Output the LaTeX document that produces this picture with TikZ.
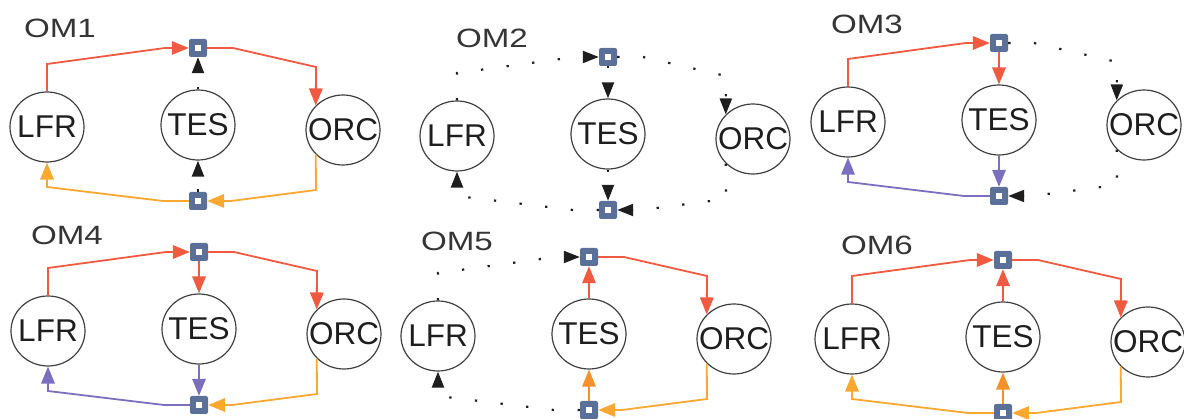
\documentclass[tikz,border=0pt]{standalone}
\usepackage{fontspec}
\setmainfont{Liberation Sans}
\usetikzlibrary{arrows.meta,shapes.geometric}

\definecolor{hubblue}{HTML}{5B7098}
\definecolor{flowred}{HTML}{F05A40}
\definecolor{floworange}{HTML}{F9A830}
\definecolor{flowamber}{HTML}{F5902A}
\definecolor{flowviolet}{HTML}{7B70C0}
\definecolor{ink}{HTML}{1E1E1E}

% nodes of one operating mode; the hub above sits at the local origin
\newcommand\omnodes[1]{%
  \node[hub] (t#1) at (0,0) {};
  \node[hub] (b#1) at (0,153) {};
  \node[unit,label={[unittext]center:LFR}] (l#1) at (-151,79) {};
  \node[unit,label={[unittext]center:TES}] (e#1) at (0,77) {};
  \node[unit,label={[unittext]center:ORC}] (o#1) at (145,82) {};}

% connector routes between the units and the two hubs
\newcommand\routeLT[2]{\draw[#2] (l#1.north) -- (-151,16) -- (-33,0) -- (t#1.west);}
\newcommand\routeTO[2]{\draw[#2] (t#1.east) -- (35,0) -- (118,19) -- (o#1.138);}
\newcommand\routeOB[2]{\draw[#2] (o#1.222) -- (118,142) -- (33,153) -- (b#1.east);}
\newcommand\routeBL[2]{\draw[#2] (b#1.west) -- (-35,153) -- (-151,139) -- (l#1.south);}
\newcommand\routeTE[2]{\draw[#2] (t#1.south) -- (e#1.north);}
\newcommand\routeET[2]{\draw[#2] (e#1.north) -- (t#1.south);}
\newcommand\routeEB[2]{\draw[#2] (e#1.south) -- (b#1.north);}
\newcommand\routeBE[2]{\draw[#2] (b#1.north) -- (e#1.south);}

\begin{document}
\begin{tikzpicture}[x=1pt,y=-1pt,
  hub/.style={rectangle,fill=hubblue,minimum size=18pt,inner sep=0pt,rounded corners=2pt,
    label={[fill=white,minimum size=5.5pt,inner sep=0pt]center:}},
  unit/.style={ellipse,draw=ink!85,line width=1.2pt,minimum width=74pt,minimum height=70pt,inner sep=0pt},
  unittext/.style={font=\fontsize{31.5}{31.5}\selectfont,text=ink,inner sep=0pt},
  tag/.style={font=\fontsize{26.5}{26.5}\selectfont,text=ink!90,inner sep=0pt},
  flow/.style={line width=1.8pt,-{Triangle[length=17pt,width=13.5pt]}},
  hot/.style={flow,draw=flowred},
  warm/.style={flow,draw=floworange},
  amber/.style={flow,draw=flowamber},
  cool/.style={flow,draw=flowviolet},
  idle/.style={flow,draw=ink,dash pattern=on 2.3pt off 23.5pt,line width=2.2pt,
    -{Triangle[length=16pt,width=12pt]}}]
\useasboundingbox (0,0) rectangle (1184,419);

% OM1
\node[tag] (n1) at (60,28) {\scalebox{1.25}[1]{OM1}};
\begin{scope}[shift={(198,48)}]
  \omnodes{1}
  \routeLT{1}{hot}
  \routeTO{1}{hot}
  \routeET{1}{idle}
  \routeOB{1}{warm}
  \routeBL{1}{warm}
  \routeBE{1}{idle}
\end{scope}

% OM2
\node[tag] (n2) at (492,38) {\scalebox{1.25}[1]{OM2}};
\begin{scope}[shift={(608,57)}]
  \omnodes{2}
  \routeLT{2}{idle}
  \routeTO{2}{idle}
  \routeTE{2}{idle}
  \routeEB{2}{idle}
  \routeOB{2}{idle}
  \routeBL{2}{idle}
\end{scope}

% OM3
\node[tag] (n3) at (867,24) {\scalebox{1.25}[1]{OM3}};
\begin{scope}[shift={(999,43)}]
  \omnodes{3}
  \routeLT{3}{hot}
  \routeTE{3}{hot}
  \routeTO{3}{idle}
  \routeEB{3}{cool}
  \routeBL{3}{cool}
  \routeOB{3}{idle}
\end{scope}

% OM4
\node[tag] (n4) at (67,235) {\scalebox{1.25}[1]{OM4}};
\begin{scope}[shift={(199,252)}]
  \omnodes{4}
  \routeLT{4}{hot}
  \routeTE{4}{hot}
  \routeTO{4}{hot}
  \routeEB{4}{cool}
  \routeBL{4}{cool}
  \routeOB{4}{warm}
\end{scope}

% OM5
\node[tag] (n5) at (457,241) {\scalebox{1.25}[1]{OM5}};
\begin{scope}[shift={(589,257)}]
  \omnodes{5}
  \routeLT{5}{idle}
  \routeET{5}{hot,line width=1.3pt}
  \routeTO{5}{hot}
  \routeOB{5}{warm}
  \routeBE{5}{amber,line width=1.3pt}
  \routeBL{5}{idle}
\end{scope}

% OM6
\node[tag] (n6) at (877,245) {\scalebox{1.25}[1]{OM6}};
\begin{scope}[shift={(1003,260)}]
  \omnodes{6}
  \routeLT{6}{hot}
  \routeET{6}{hot}
  \routeTO{6}{hot}
  \routeOB{6}{warm}
  \routeBE{6}{amber}
  \routeBL{6}{warm}
\end{scope}
\end{tikzpicture}
\end{document}
